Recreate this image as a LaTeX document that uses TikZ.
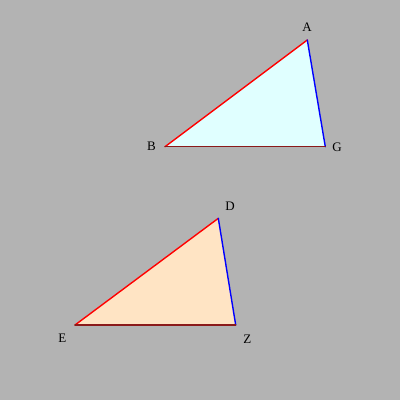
\documentclass[tikz,border=0pt]{standalone}
\usepackage{fontspec}
\setmainfont{Liberation Serif}
\begin{document}
\begin{tikzpicture}[x=1pt,y=-1pt,
  lbl/.style={font=\fontsize{13}{15}\selectfont, inner sep=0pt},
  edge/.style={line width=1.4pt, line cap=round}]
\definecolor{bg}{HTML}{B3B3B3}
\definecolor{cyanfill}{HTML}{E0FFFF}
\definecolor{bisquefill}{HTML}{FFE4C4}
\definecolor{darkred}{HTML}{8B1A1A}
\fill[bg] (0,0) rectangle (400,400);
\useasboundingbox (0,0) rectangle (400,400);
% triangle 1
\coordinate (A) at (307.3,40);
\coordinate (B) at (165,146.7);
\coordinate (G) at (325.3,146.7);
\fill[cyanfill] (A) -- (B) -- (G) -- cycle;
\draw[edge, red] (A) -- (B);
\draw[edge, blue] (A) -- (G);
\draw[edge, darkred] (B) -- (G);
\node[lbl] (lA) at (307,27.5) {A};
\node[lbl] (lB) at (151.5,146.7) {B};
\node[lbl] (lG) at (337,147) {G};
% triangle 2
\coordinate (D) at (218.3,218.3);
\coordinate (E) at (75,325);
\coordinate (Z) at (235.7,325);
\fill[bisquefill] (D) -- (E) -- (Z) -- cycle;
\draw[edge, red] (D) -- (E);
\draw[edge, blue] (D) -- (Z);
\draw[edge, darkred] (E) -- (Z);
\node[lbl] (lD) at (230,206) {D};
\node[lbl] (lE) at (62.3,338.3) {E};
\node[lbl] (lZ) at (247.3,339) {Z};
\end{tikzpicture}
\end{document}
